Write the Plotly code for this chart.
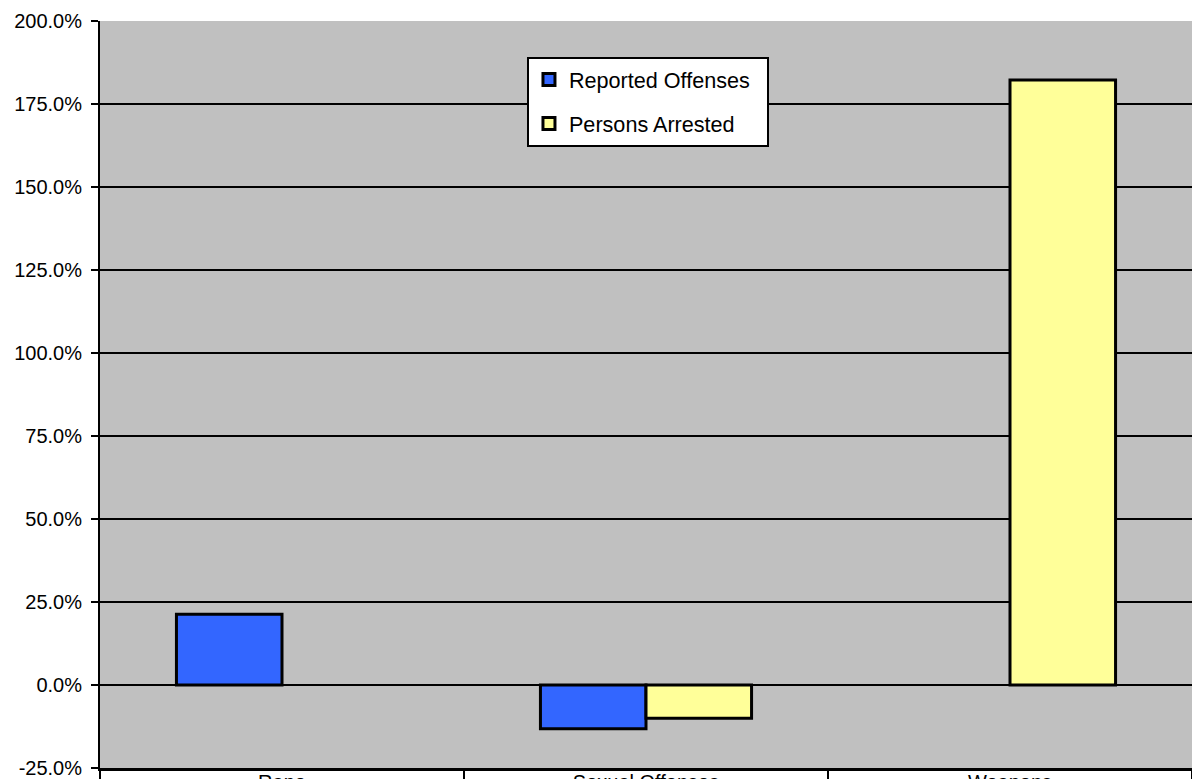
import plotly.graph_objects as go

categories = ["Rape", "Sexual Offenses", "Weapons"]
reported_offenses = [21.3, -13.2, None]
persons_arrested = [None, -10.0, 182.2]
series_names = ["Reported Offenses", "Persons Arrested"]
y_ticks = [-25, 0, 25, 50, 75, 100, 125, 150, 175, 200]

FONT = "Arial, Liberation Sans, sans-serif"
PAD = "\u00a0\u00a0"

fig = go.Figure()
fig.add_trace(go.Bar(
    x=categories, y=reported_offenses, name=series_names[0] + PAD,
    marker=dict(color="#3366FF", line=dict(color="black", width=3)),
    legendgroup="a",
))
fig.add_trace(go.Bar(
    x=categories, y=persons_arrested, name=series_names[1] + PAD,
    marker=dict(color="#FFFF99", line=dict(color="black", width=3)),
    legendgroup="b",
))

fig.update_layout(
    width=1192, height=779,
    margin=dict(l=100, r=0, t=21, b=11, autoexpand=False),
    paper_bgcolor="white",
    plot_bgcolor="#C0C0C0",
    barmode="group",
    bargap=0.42,
    bargroupgap=0,
    font=dict(family=FONT, size=20, color="black"),
    showlegend=True,
    legend=dict(
        x=0.391, y=0.952, xanchor="left", yanchor="top",
        bgcolor="white", bordercolor="black", borderwidth=2,
        font=dict(family=FONT, size=21.6, color="black"),
        traceorder="grouped", tracegroupgap=13,
    ),
)

fig.update_yaxes(
    range=[-25, 200],
    tickvals=y_ticks,
    ticktext=[f"{v:.1f}%" for v in y_ticks],
    showgrid=True, gridcolor="black", gridwidth=1.5,
    zeroline=True, zerolinecolor="black", zerolinewidth=1.5,
    showline=True, linecolor="black", linewidth=2,
    ticks="outside", ticklen=7, tickwidth=2, tickcolor="black",
    tickfont=dict(family=FONT, size=20, color="black"),
    ticklabelstandoff=5,
    automargin=False,
)
fig.update_xaxes(
    type="category",
    showline=True, linecolor="black", linewidth=3,
    ticks="outside", tickson="boundaries", ticklen=15, tickwidth=2, tickcolor="black",
    tickfont=dict(family=FONT, size=20, color="black"),
    ticklabelstandoff=-6,
    showgrid=False,
    automargin=False,
)

fig.write_html(
    "out.html",
    config={"displayModeBar": False},
    post_script=(
        "document.body.style.margin='0';"
        "document.body.style.overflow='hidden';"
        "document.documentElement.style.overflow='hidden';"
    ),
)
